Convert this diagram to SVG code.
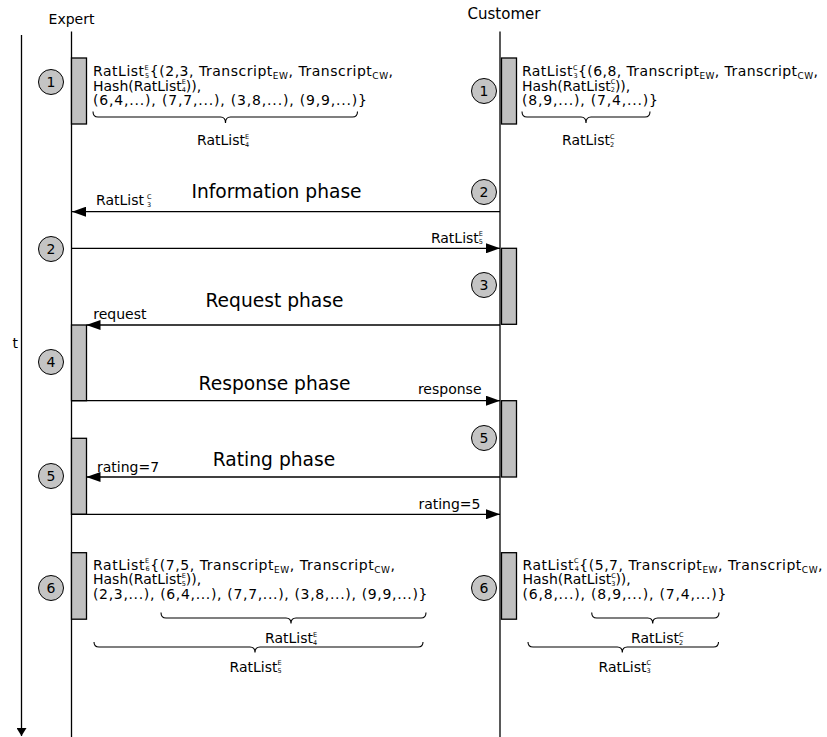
<svg xmlns="http://www.w3.org/2000/svg" width="827" height="737" viewBox="0 0 827 737">
  <defs>
    <style>
      text { font-family: "DejaVu Sans", Verdana, "Liberation Sans", sans-serif; fill: #000; }
      .t { font-size: 14px; }
      .ix { font-size: 6.5px; }
      .sb { font-size: 9px; }
      .ph { font-size: 18.67px; text-anchor: middle; }
      .num { font-size: 14px; text-anchor: middle; }
      .life { stroke: #000; stroke-width: 1.3; fill: none; }
      .act { fill: #c0c0c0; stroke: #000; stroke-width: 1.3; }
      .step { fill: #c4c4c4; stroke: #000; stroke-width: 1; }
      .msg { stroke: #000; stroke-width: 1.3; fill: none; marker-end: url(#head); }
      .brace { fill: none; stroke: #000; stroke-width: 1.1; }
    </style>
    <marker id="head" markerUnits="userSpaceOnUse" markerWidth="14" markerHeight="10" refX="14" refY="5" orient="auto">
      <path d="M0,0 L14,5 L0,10 z" fill="#000"/>
    </marker>
    <marker id="head-s" markerUnits="userSpaceOnUse" markerWidth="8" markerHeight="10" refX="8" refY="5" orient="auto">
      <path d="M0,0 L8,5 L0,10 z" fill="#000"/>
    </marker>
  </defs>

  <!-- time axis -->
  <g id="time-axis">
    <line x1="21.5" y1="35" x2="21.5" y2="736" class="life" marker-end="url(#head-s)"/>
    <text class="t" x="12.5" y="348">t</text>
  </g>

  <!-- lifelines -->
  <g id="expert">
    <text class="t" x="71.5" y="24" text-anchor="middle">Expert</text>
    <line x1="71.5" y1="31.5" x2="71.5" y2="737" class="life"/>
  </g>
  <g id="customer">
    <text x="504" y="19" text-anchor="middle" style="font-size:15px">Customer</text>
    <line x1="500" y1="31.5" x2="500" y2="737" class="life"/>
  </g>

  <!-- expert step 1 -->
  <g id="expert-step1">
    <rect class="act" x="71.5" y="58" width="15" height="66"/>
    <circle class="step" cx="51" cy="82" r="12.5"/>
    <text class="num" x="51" y="87">1</text>
    <text class="t" x="93" y="76" textLength="300" lengthAdjust="spacing">RatList<tspan class="ix" dy="-6.2">E</tspan><tspan class="ix" dx="-4.1" dy="8">5</tspan><tspan dy="-1.8">{(2,3, Transcript</tspan><tspan class="sb" dy="3">EW</tspan><tspan dy="-3">, Transcript</tspan><tspan class="sb" dy="3">CW</tspan><tspan dy="-3">,</tspan></text>
    <text class="t" x="93" y="90.5">Hash(RatList<tspan class="ix" dy="-6.2">E</tspan><tspan class="ix" dx="-4.1" dy="8">4</tspan><tspan dy="-1.8">)),</tspan></text>
    <text class="t" x="93" y="105" textLength="274" lengthAdjust="spacing">(6,4,...), (7,7,...), (3,8,...), (9,9,...)}</text>
    <path class="brace" d="M93,111.5 Q93,117 98,117 L220.5,117 Q225.5,117 225.5,123 Q225.5,117 230.5,117 L352.5,117 Q357.5,117 357.5,111.5"/>
    <text class="t" x="197" y="145">RatList<tspan class="ix" dy="-6.2">E</tspan><tspan class="ix" dx="-4.1" dy="8">4</tspan></text>
  </g>

  <!-- customer step 1 -->
  <g id="customer-step1">
    <rect class="act" x="501.5" y="58" width="15" height="66"/>
    <circle class="step" cx="484" cy="91" r="12.5"/>
    <text class="num" x="484" y="96">1</text>
    <text class="t" x="522" y="76" textLength="296" lengthAdjust="spacing">RatList<tspan class="ix" dy="-6.2">C</tspan><tspan class="ix" dx="-4.5" dy="8">3</tspan><tspan dy="-1.8">{(6,8, Transcript</tspan><tspan class="sb" dy="3">EW</tspan><tspan dy="-3">, Transcript</tspan><tspan class="sb" dy="3">CW</tspan><tspan dy="-3">,</tspan></text>
    <text class="t" x="522" y="90.5">Hash(RatList<tspan class="ix" dy="-6.2">C</tspan><tspan class="ix" dx="-4.5" dy="8">2</tspan><tspan dy="-1.8">)),</tspan></text>
    <text class="t" x="522" y="105" textLength="136" lengthAdjust="spacing">(8,9,...), (7,4,...)}</text>
    <path class="brace" d="M522,111.5 Q522,117 527,117 L581,117 Q586,117 586,123 Q586,117 591,117 L645,117 Q650,117 650,111.5"/>
    <text class="t" x="562" y="145">RatList<tspan class="ix" dy="-6.2">C</tspan><tspan class="ix" dx="-4.5" dy="8">2</tspan></text>
  </g>

  <!-- steps 2 to 5 -->
  <g id="customer-step2">
    <circle class="step" cx="484" cy="192" r="12.5"/>
    <text class="num" x="484" y="197">2</text>
  </g>
  <g id="expert-step2">
    <circle class="step" cx="51" cy="249" r="12.5"/>
    <text class="num" x="51" y="254">2</text>
  </g>
  <g id="customer-step3">
    <rect class="act" x="501.5" y="248.3" width="15" height="76"/>
    <circle class="step" cx="484" cy="285" r="12.5"/>
    <text class="num" x="484" y="290">3</text>
  </g>
  <g id="expert-step4">
    <rect class="act" x="71.5" y="325" width="15" height="75.7"/>
    <circle class="step" cx="51" cy="362" r="12.5"/>
    <text class="num" x="51" y="367">4</text>
  </g>
  <g id="customer-step5">
    <rect class="act" x="501.5" y="400.7" width="15" height="76.3"/>
    <circle class="step" cx="484" cy="438" r="12.5"/>
    <text class="num" x="484" y="443">5</text>
  </g>
  <g id="expert-step5">
    <rect class="act" x="71.5" y="438.3" width="15" height="76"/>
    <circle class="step" cx="51" cy="476" r="12.5"/>
    <text class="num" x="51" y="481">5</text>
  </g>

  <!-- phase titles -->
  <g id="phases">
    <text class="ph" x="276.5" y="197.5">Information phase</text>
    <text class="ph" x="274.5" y="306.5">Request phase</text>
    <text class="ph" x="274.5" y="389.5">Response phase</text>
    <text class="ph" x="274" y="465.5">Rating phase</text>
  </g>

  <!-- messages -->
  <g id="connectors">
    <line class="msg" x1="500" y1="211.7" x2="72" y2="211.7"/>
    <text class="t" x="96" y="205">RatList<tspan class="ix" dx="3" dy="-6.2">C</tspan><tspan class="ix" dx="-4.5" dy="8">3</tspan></text>

    <line class="msg" x1="71.5" y1="248.3" x2="500" y2="248.3"/>
    <text class="t" x="483" y="242.5" text-anchor="end">RatList<tspan class="ix" dy="-6.2">E</tspan><tspan class="ix" dx="-4.1" dy="8">5</tspan></text>

    <line class="msg" x1="500" y1="325" x2="86.5" y2="325"/>
    <text class="t" x="93.3" y="318.5">request</text>

    <line class="msg" x1="71.5" y1="400.7" x2="500" y2="400.7"/>
    <text class="t" x="481.5" y="394" text-anchor="end">response</text>

    <line class="msg" x1="500" y1="477" x2="86.5" y2="477"/>
    <text class="t" x="97" y="471.5">rating=7</text>

    <line class="msg" x1="71.5" y1="514.3" x2="500" y2="514.3"/>
    <text class="t" x="480.5" y="509" text-anchor="end">rating=5</text>
  </g>

  <!-- expert step 6 -->
  <g id="expert-step6">
    <rect class="act" x="71.5" y="552.7" width="15" height="66.5"/>
    <circle class="step" cx="51" cy="588" r="12.5"/>
    <text class="num" x="51" y="593">6</text>
    <text class="t" x="93" y="569.5" textLength="302" lengthAdjust="spacing">RatList<tspan class="ix" dy="-6.2">E</tspan><tspan class="ix" dx="-4.1" dy="8">6</tspan><tspan dy="-1.8">{(7,5, Transcript</tspan><tspan class="sb" dy="3">EW</tspan><tspan dy="-3">, Transcript</tspan><tspan class="sb" dy="3">CW</tspan><tspan dy="-3">,</tspan></text>
    <text class="t" x="93" y="584">Hash(RatList<tspan class="ix" dy="-6.2">E</tspan><tspan class="ix" dx="-4.1" dy="8">5</tspan><tspan dy="-1.8">)),</tspan></text>
    <text class="t" x="93" y="598.5" textLength="334.5" lengthAdjust="spacing">(2,3,...), (6,4,...), (7,7,...), (3,8,...), (9,9,...)}</text>
    <path class="brace" d="M161,612.5 Q161,618 166,618 L286,618 Q291,618 291,623.5 Q291,618 296,618 L421,618 Q426,618 426,612.5"/>
    <text class="t" x="265" y="643">RatList<tspan class="ix" dy="-6.2">E</tspan><tspan class="ix" dx="-4.1" dy="8">4</tspan></text>
    <path class="brace" d="M94,642 Q94,647 99,647 L250,647 Q255,647 255,652.5 Q255,647 260,647 L418,647 Q423,647 423,642"/>
    <text class="t" x="229.5" y="671.5">RatList<tspan class="ix" dy="-6.2">E</tspan><tspan class="ix" dx="-4.1" dy="8">5</tspan></text>
  </g>

  <!-- customer step 6 -->
  <g id="customer-step6">
    <rect class="act" x="501.5" y="552.7" width="15" height="66.5"/>
    <circle class="step" cx="484" cy="588" r="12.5"/>
    <text class="num" x="484" y="593">6</text>
    <text class="t" x="522.5" y="569.5" textLength="300" lengthAdjust="spacing">RatList<tspan class="ix" dy="-6.2">C</tspan><tspan class="ix" dx="-4.5" dy="8">4</tspan><tspan dy="-1.8">{(5,7, Transcript</tspan><tspan class="sb" dy="3">EW</tspan><tspan dy="-3">, Transcript</tspan><tspan class="sb" dy="3">CW</tspan><tspan dy="-3">,</tspan></text>
    <text class="t" x="522.5" y="584">Hash(RatList<tspan class="ix" dy="-6.2">C</tspan><tspan class="ix" dx="-4.5" dy="8">3</tspan><tspan dy="-1.8">)),</tspan></text>
    <text class="t" x="522.5" y="598.5" textLength="204" lengthAdjust="spacing">(6,8,...), (8,9,...), (7,4,...)}</text>
    <path class="brace" d="M591.7,612.5 Q591.7,618 596.7,618 L647.7,618 Q652.7,618 652.7,623.5 Q652.7,618 657.7,618 L714,618 Q719,618 719,612.5"/>
    <text class="t" x="631" y="643">RatList<tspan class="ix" dy="-6.2">C</tspan><tspan class="ix" dx="-4.5" dy="8">2</tspan></text>
    <path class="brace" d="M528,642 Q528,647 533,647 L617.3,647 Q622.3,647 622.3,652.5 Q622.3,647 627.3,647 L713.5,647 Q718.5,647 718.5,642"/>
    <text class="t" x="598.5" y="671.5">RatList<tspan class="ix" dy="-6.2">C</tspan><tspan class="ix" dx="-4.5" dy="8">3</tspan></text>
  </g>
</svg>
